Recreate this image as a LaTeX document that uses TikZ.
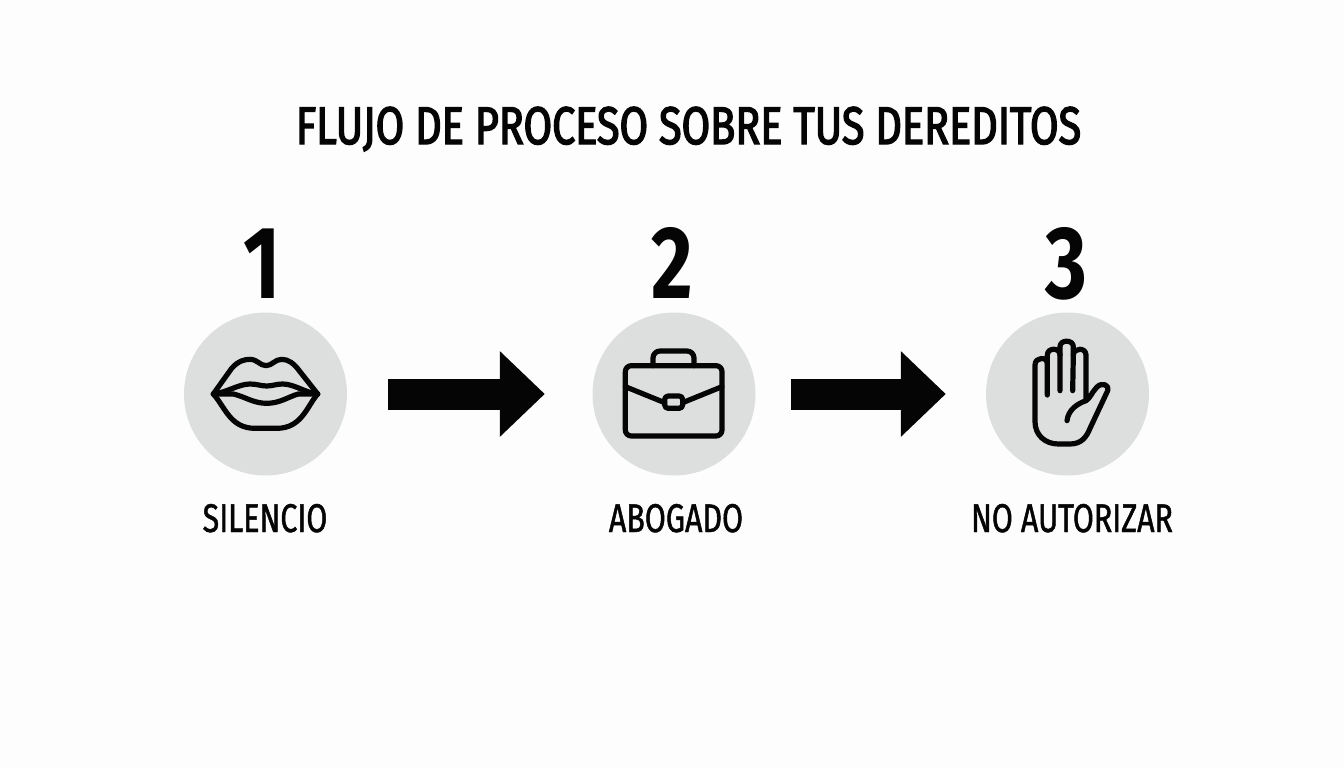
\documentclass[tikz,border=0pt]{standalone}
\usepackage{fontspec}
\setmainfont[FakeStretch=0.76,FakeBold=1.2]{Fira Sans}
\newfontfamily\titlefont[FakeStretch=0.78,FakeBold=2.6]{Fira Sans}
\newfontfamily\numfont[FakeStretch=0.78]{Fira Sans Bold}
\usetikzlibrary{arrows.meta}
\definecolor{disc}{HTML}{DDDEDE}
\definecolor{paper}{HTML}{FDFDFD}
\definecolor{ink}{HTML}{050505}
\tikzset{
  disc/.style={circle,fill=disc,minimum size=163pt,inner sep=0pt},
  titletext/.style={font=\titlefont\fontsize{53}{53}\selectfont,text=ink,inner sep=0pt,anchor=base},
  numtext/.style={font=\numfont\fontsize{103}{103}\selectfont,text=ink,inner sep=0pt,anchor=base},
  labeltext/.style={font=\fontsize{40}{40}\selectfont,text=ink,inner sep=0pt,anchor=base},
  flow/.style={line width=31pt,draw=ink,-{Triangle[length=45pt,width=83pt]}},
  icon/.style={draw=ink,line width=5.2pt,line cap=round,line join=round}
}
\begin{document}
\begin{tikzpicture}[x=1pt,y=-1pt]
\path[use as bounding box,fill=paper] (0,0) rectangle (1344,768);
\node[titletext] (title) at (688.5,144) {FLUJO DE PROCESO SOBRE TUS DEREDITOS};
\node[disc] (c1) at (265.5,394) {};
\node[disc] (c2) at (674,394) {};
\node[disc] (c3) at (1067.5,394) {};
\node[numtext] (n1) at (262,298) {1};
\node[numtext] (n2) at (672.5,298) {2};
\node[numtext] (n3) at (1066.5,298) {3};
\node[labeltext] (l1) at (265,532) {SILENCIO};
\node[labeltext] (l2) at (676,532) {ABOGADO};
\node[labeltext] (l3) at (1072,532) {NO AUTORIZAR};
\draw[flow,shorten <=41pt,shorten >=47.5pt] (c1) -- (c2);
\draw[flow,shorten <=35.5pt,shorten >=40pt] (c2) -- (c3);
% lips
\begin{scope}[shift={(170,300)},scale=1/3]
\draw[icon] (130,282) -- (185,205) .. controls (205,182) and (225,178) .. (240,178)
  .. controls (262,178) and (270,197) .. (288,197)
  .. controls (306,197) and (315,178) .. (335,178)
  .. controls (355,178) and (372,190) .. (390,215) -- (443,282);
\draw[icon] (130,282) .. controls (165,320) and (180,385) .. (255,385)
  -- (320,385) .. controls (395,385) and (410,320) .. (443,282);
\draw[icon] (130,282) .. controls (170,278) and (205,252) .. (240,252)
  .. controls (262,252) and (272,258) .. (290,258)
  .. controls (308,258) and (318,252) .. (338,252)
  .. controls (373,252) and (405,278) .. (443,282);
\draw[icon] (130,282) -- (190,282) .. controls (225,290) and (250,310) .. (290,310)
  .. controls (330,310) and (355,290) .. (385,282) -- (443,282);
\end{scope}
% briefcase
\begin{scope}[shift={(580,300)},scale=1/3]
\draw[icon,rounded corners=6pt] (136,197) rectangle (426,408);
\draw[icon,rounded corners=7pt] (219,197) -- (219,153) -- (342,153) -- (342,197);
\draw[icon,rounded corners=3.5pt] (254,288) rectangle (308,325);
\draw[icon] (136,260) -- (254,308);
\draw[icon] (426,260) -- (308,308);
\end{scope}
% hand
\begin{scope}[shift={(975,300)},scale=1/3]
\draw[icon] (217,285) -- (217,190) .. controls (217,170) and (180,170) .. (180,195)
  -- (180,365) .. controls (180,405) and (210,432) .. (250,432)
  -- (285,432) .. controls (320,432) and (335,410) .. (345,385)
  -- (398,272) .. controls (405,255) and (380,245) .. (365,262)
  .. controls (350,278) and (345,295) .. (333,302)
  -- (333,165) .. controls (333,142) and (296,142) .. (295,165)
  -- (293,272);
\draw[icon] (217,190) -- (217,165) .. controls (217,142) and (255,142) .. (255,165)
  -- (255,272);
\draw[icon] (255,165) -- (255,140) .. controls (255,118) and (295,118) .. (295,140) -- (295,165);
\draw[icon] (333,302) .. controls (305,312) and (280,330) .. (276,362);
\end{scope}
\end{tikzpicture}
\end{document}
